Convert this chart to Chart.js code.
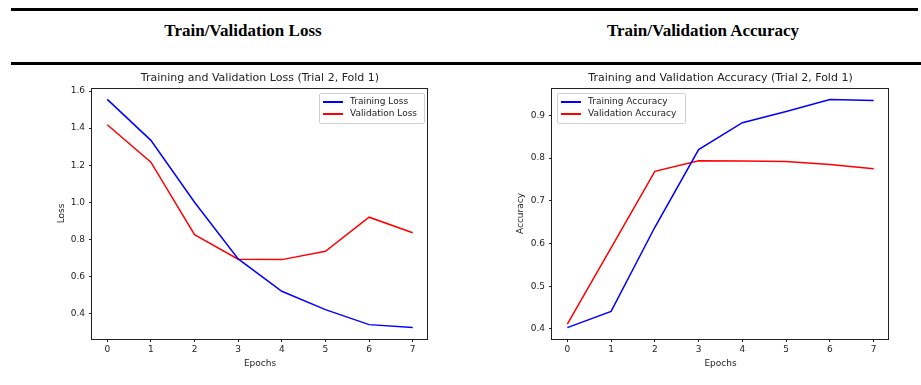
<!DOCTYPE html>
<html>
<head>
<meta charset="utf-8">
<script src="https://cdn.jsdelivr.net/npm/chart.js@4.4.1/dist/chart.umd.min.js"></script>
<style>
    html, body { margin: 0; padding: 0; background: #fff; }
    body { width: 921px; height: 385px; position: relative; overflow: hidden; font-family: 'DejaVu Sans', sans-serif; }
    .rule { position: absolute; left: 11px; height: 3px; background: #000; }
    .head {
        position: absolute; top: 20px; line-height: 22px; transform: translateX(-50%);
        font-family: 'Liberation Serif', 'Times New Roman', serif; font-weight: bold; font-size: 17px;
        color: #000; white-space: nowrap;
    }
    .panel { position: absolute; top: 66px; }
    .legend {
        position: absolute; top: 93px; height: 29px; background: rgba(255,255,255,0.8);
        border: 1px solid #d0d0d0; border-radius: 2px; font-size: 9px; color: #222;
    }
    .legend .swatch { position: absolute; left: 3px; width: 20px; height: 1.5px; }
    .legend .label { position: absolute; left: 30px; line-height: 12px; white-space: nowrap; }
</style>
</head>
<body>
    <div class="rule" style="top:8px;width:907px"></div>
    <div class="rule" style="top:62px;width:910px"></div>
    <div class="head" style="left:243px">Train/Validation Loss</div>
    <div class="head" style="left:703px">Train/Validation Accuracy</div>

    <canvas id="lossChart" class="panel" style="left:0" width="460" height="319"></canvas>
    <canvas id="accChart" class="panel" style="left:460px" width="461" height="319"></canvas>

    <div class="legend" style="left:319px;width:104px">
        <span class="swatch" style="top:7px;background:#0000ff"></span><span class="label" style="top:1px">Training Loss</span>
        <span class="swatch" style="top:19px;background:#ff0000"></span><span class="label" style="top:13px">Validation Loss</span>
    </div>
    <div class="legend" style="left:557px;width:127px">
        <span class="swatch" style="top:7px;background:#0000ff"></span><span class="label" style="top:1px">Training Accuracy</span>
        <span class="swatch" style="top:19px;background:#ff0000"></span><span class="label" style="top:13px">Validation Accuracy</span>
    </div>

<script>
// Values
const epochs = [0, 1, 2, 3, 4, 5, 6, 7];
const trainLoss = [1.555, 1.334, 1.0, 0.694, 0.519, 0.42, 0.339, 0.323];
const valLoss = [1.418, 1.216, 0.825, 0.692, 0.69, 0.735, 0.919, 0.835];
const trainAcc = [0.403, 0.441, 0.638, 0.82, 0.883, 0.909, 0.9375, 0.935];
const valAcc = [0.411, 0.59, 0.769, 0.794, 0.793, 0.792, 0.785, 0.775];
const lossTicks = [0.4, 0.6, 0.8, 1.0, 1.2, 1.4, 1.6];
const accTicks = [0.4, 0.5, 0.6, 0.7, 0.8, 0.9];

const INK = '#222';
const FONT = 'DejaVu Sans';

// matplotlib style autoscale: data range plus 5% each side
function paddedRange(values) {
    const lo = Math.min(...values);
    const hi = Math.max(...values);
    const m = (hi - lo) * 0.05;
    return { min: lo - m, max: hi + m };
}

// full box around the plot area, like the four spines
const framePlugin = {
    id: 'frame',
    afterDatasetsDraw(chart) {
        const { ctx, chartArea: a } = chart;
        ctx.save();
        ctx.strokeStyle = INK;
        ctx.lineWidth = 1;
        ctx.strokeRect(a.left - 0.5, a.top + 0.5, a.right - a.left, a.bottom - a.top);
        ctx.restore();
    }
};

function series(ys) {
    return epochs.map((x, i) => ({ x, y: ys[i] }));
}

function makeChart(id, cfg) {
    const yRange = paddedRange([...cfg.train, ...cfg.val]);
    const xRange = paddedRange(epochs);

    return new Chart(document.getElementById(id), {
        type: 'line',
        data: {
            datasets: [
                { label: cfg.trainLabel, data: series(cfg.train), borderColor: '#0000ff', borderWidth: 1.5, pointRadius: 0, tension: 0 },
                { label: cfg.valLabel, data: series(cfg.val), borderColor: '#ff0000', borderWidth: 1.5, pointRadius: 0, tension: 0 }
            ]
        },
        options: {
            responsive: false,
            animation: false,
            layout: { padding: { left: 52, right: cfg.padRight, top: 0, bottom: 0 } },
            plugins: {
                legend: { display: false },
                tooltip: { enabled: false },
                title: {
                    display: true,
                    text: cfg.title,
                    fullSize: false,
                    color: INK,
                    font: { family: FONT, size: 11, weight: 'normal' },
                    padding: { top: 5.2, bottom: 3.6 }
                }
            },
            scales: {
                x: {
                    type: 'linear',
                    min: xRange.min,
                    max: xRange.max,
                    afterFit: s => { s.height = 46; },
                    afterBuildTicks: s => { s.ticks = epochs.map(v => ({ value: v })); },
                    border: { display: false },
                    grid: { drawOnChartArea: false, drawTicks: true, tickLength: 3, color: INK },
                    ticks: { color: INK, padding: 2, autoSkip: false, maxRotation: 0, font: { family: FONT, size: 9 }, callback: v => String(v) },
                    title: { display: true, text: 'Epochs', color: INK, font: { family: FONT, size: 9 }, padding: { top: 0, bottom: 16.2 } }
                },
                y: {
                    min: yRange.min,
                    max: yRange.max,
                    afterFit: s => { s.width = 40; },
                    afterBuildTicks: s => { s.ticks = cfg.ticks.map(v => ({ value: v })); },
                    border: { display: false },
                    grid: { drawOnChartArea: false, drawTicks: true, tickLength: 3, color: INK },
                    ticks: { color: INK, padding: 4, autoSkip: false, font: { family: FONT, size: 9 }, callback: v => v.toFixed(1) },
                    title: { display: true, text: cfg.yLabel, color: INK, font: { family: FONT, size: 9 }, padding: { top: cfg.yTitlePad, bottom: 0 } }
                }
            }
        },
        plugins: [framePlugin]
    });
}

makeChart('lossChart', {
    title: 'Training and Validation Loss (Trial 2, Fold 1)',
    yLabel: 'Loss',
    trainLabel: 'Training Loss',
    valLabel: 'Validation Loss',
    train: trainLoss,
    val: valLoss,
    ticks: lossTicks,
    padRight: 32,
    yTitlePad: 4.3
});

makeChart('accChart', {
    title: 'Training and Validation Accuracy (Trial 2, Fold 1)',
    yLabel: 'Accuracy',
    trainLabel: 'Training Accuracy',
    valLabel: 'Validation Accuracy',
    train: trainAcc,
    val: valAcc,
    ticks: accTicks,
    padRight: 32,
    yTitlePad: 3.3
});
</script>
</body>
</html>
